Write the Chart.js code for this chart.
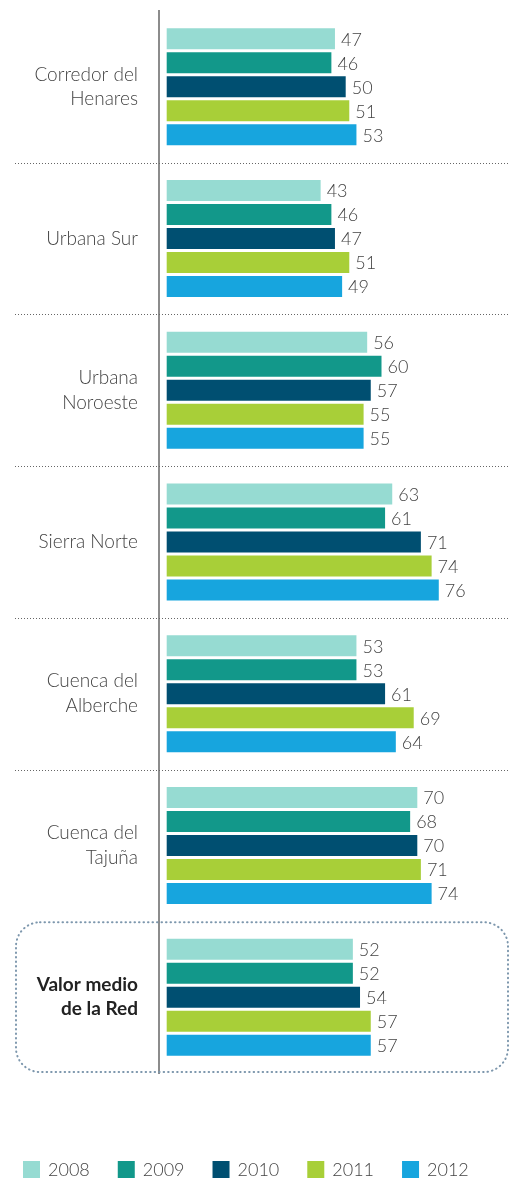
<!DOCTYPE html>
<html>
<head>
<meta charset="utf-8">
<script src="https://cdn.jsdelivr.net/npm/chart.js@4/dist/chart.umd.min.js"></script>
<style>
html,body{margin:0;padding:0;background:#fff;}
#wrap{position:relative;width:510px;height:1179px;}
</style>
</head>
<body>
<div id="wrap"><canvas id="c" width="510" height="1179"></canvas></div>
<script>
const categories = [
  ['Corredor del', 'Henares'],
  'Urbana Sur',
  ['Urbana', 'Noroeste'],
  'Sierra Norte',
  ['Cuenca del', 'Alberche'],
  ['Cuenca del', 'Tajuña'],
  ['Valor medio', 'de la Red']
];
const years = ['2008', '2009', '2010', '2011', '2012'];
const v2008 = [47, 43, 56, 63, 53, 70, 52];
const v2009 = [46, 46, 60, 61, 53, 68, 52];
const v2010 = [50, 47, 57, 71, 61, 70, 54];
const v2011 = [51, 51, 55, 74, 69, 71, 57];
const v2012 = [53, 49, 55, 76, 64, 74, 57];
const colors = ['#96dbd2', '#12988a', '#004f71', '#a8cf38', '#17a5de'];
const seriesValues = [v2008, v2009, v2010, v2011, v2012];

const FONT = 'Lato, "Source Sans Pro", "Noto Sans", sans-serif';

const valueLabels = {
  id: 'valueLabels',
  afterDatasetsDraw(chart) {
    const ctx = chart.ctx;
    ctx.save();
    ctx.font = '300 18px ' + FONT;
    ctx.fillStyle = '#444';
    ctx.textBaseline = 'middle';
    ctx.textAlign = 'left';
    chart.data.datasets.forEach((ds, di) => {
      const meta = chart.getDatasetMeta(di);
      meta.data.forEach((bar, i) => {
        ctx.fillText(String(ds.data[i]), bar.x + 6, bar.y + 1);
      });
    });
    ctx.restore();
  }
};

const separators = {
  id: 'separators',
  beforeDatasetsDraw(chart) {
    const ctx = chart.ctx;
    const y = chart.scales.y;
    const n = chart.data.labels.length;
    ctx.save();
    ctx.strokeStyle = '#666';
    ctx.lineWidth = 1;
    ctx.setLineDash([1, 2]);
    for (let i = 0; i < n - 2; i++) {
      const yy = Math.round((y.getPixelForTick(i) + y.getPixelForTick(i + 1)) / 2) + 0.5;
      ctx.beginPath();
      ctx.moveTo(15, yy);
      ctx.lineTo(510, yy);
      ctx.stroke();
    }
    const top = (y.getPixelForTick(n - 2) + y.getPixelForTick(n - 1)) / 2 + 1;
    const bottom = chart.chartArea.bottom - 1;
    const left = 16, right = 508, r = 24;
    ctx.strokeStyle = '#7d97ad';
    ctx.lineWidth = 2;
    ctx.lineCap = 'round';
    ctx.setLineDash([0.5, 4]);
    ctx.beginPath();
    ctx.moveTo(left + r, top);
    ctx.lineTo(right - r, top);
    ctx.arcTo(right, top, right, top + r, r);
    ctx.lineTo(right, bottom - r);
    ctx.arcTo(right, bottom, right - r, bottom, r);
    ctx.lineTo(left + r, bottom);
    ctx.arcTo(left, bottom, left, bottom - r, r);
    ctx.lineTo(left, top + r);
    ctx.arcTo(left, top, left + r, top, r);
    ctx.closePath();
    ctx.stroke();
    ctx.restore();
  }
};

const customLegend = {
  id: 'customLegend',
  afterDraw(chart) {
    const ctx = chart.ctx;
    ctx.save();
    ctx.font = '300 18px ' + FONT;
    ctx.textBaseline = 'middle';
    ctx.textAlign = 'left';
    let x = 23;
    const yc = 1169.5;
    chart.data.datasets.forEach(ds => {
      ctx.fillStyle = ds.backgroundColor;
      ctx.fillRect(x, yc - 8.5, 17, 17);
      ctx.fillStyle = '#444';
      ctx.fillText(ds.label, x + 25, yc + 1);
      x += 25 + ctx.measureText(ds.label).width + 28;
    });
    ctx.restore();
  }
};

new Chart(document.getElementById('c'), {
  type: 'bar',
  data: {
    labels: categories,
    datasets: years.map((yr, i) => ({
      label: yr,
      data: seriesValues[i],
      backgroundColor: colors[i],
      borderWidth: 0,
      categoryPercentage: 0.791,
      barPercentage: 0.875
    }))
  },
  options: {
    indexAxis: 'y',
    responsive: false,
    animation: false,
    devicePixelRatio: 1,
    layout: { padding: { top: 11, bottom: 106, left: 0, right: 10 } },
    plugins: {
      legend: { display: false },
      tooltip: { enabled: false }
    },
    scales: {
      x: {
        display: false,
        min: -2.15,
        max: 93.1
      },
      y: {
        afterFit(scale) {
          scale.width = 159;
          scale.paddingTop = 0;
          scale.paddingBottom = 0;
        },
        grid: { display: false, drawTicks: false },
        border: { display: true, color: '#8c8c8c', width: 2 },
        ticks: {
          padding: 21,
          color: (c) => c.index === 6 ? '#222' : '#444',
          font: (c) => c.index === 6
            ? { family: FONT, size: 19, weight: 'bold', lineHeight: 1.25 }
            : { family: FONT, size: 19, weight: '300', lineHeight: 1.3 }
        }
      }
    }
  },
  plugins: [separators, valueLabels, customLegend]
});
</script>
</body>
</html>
